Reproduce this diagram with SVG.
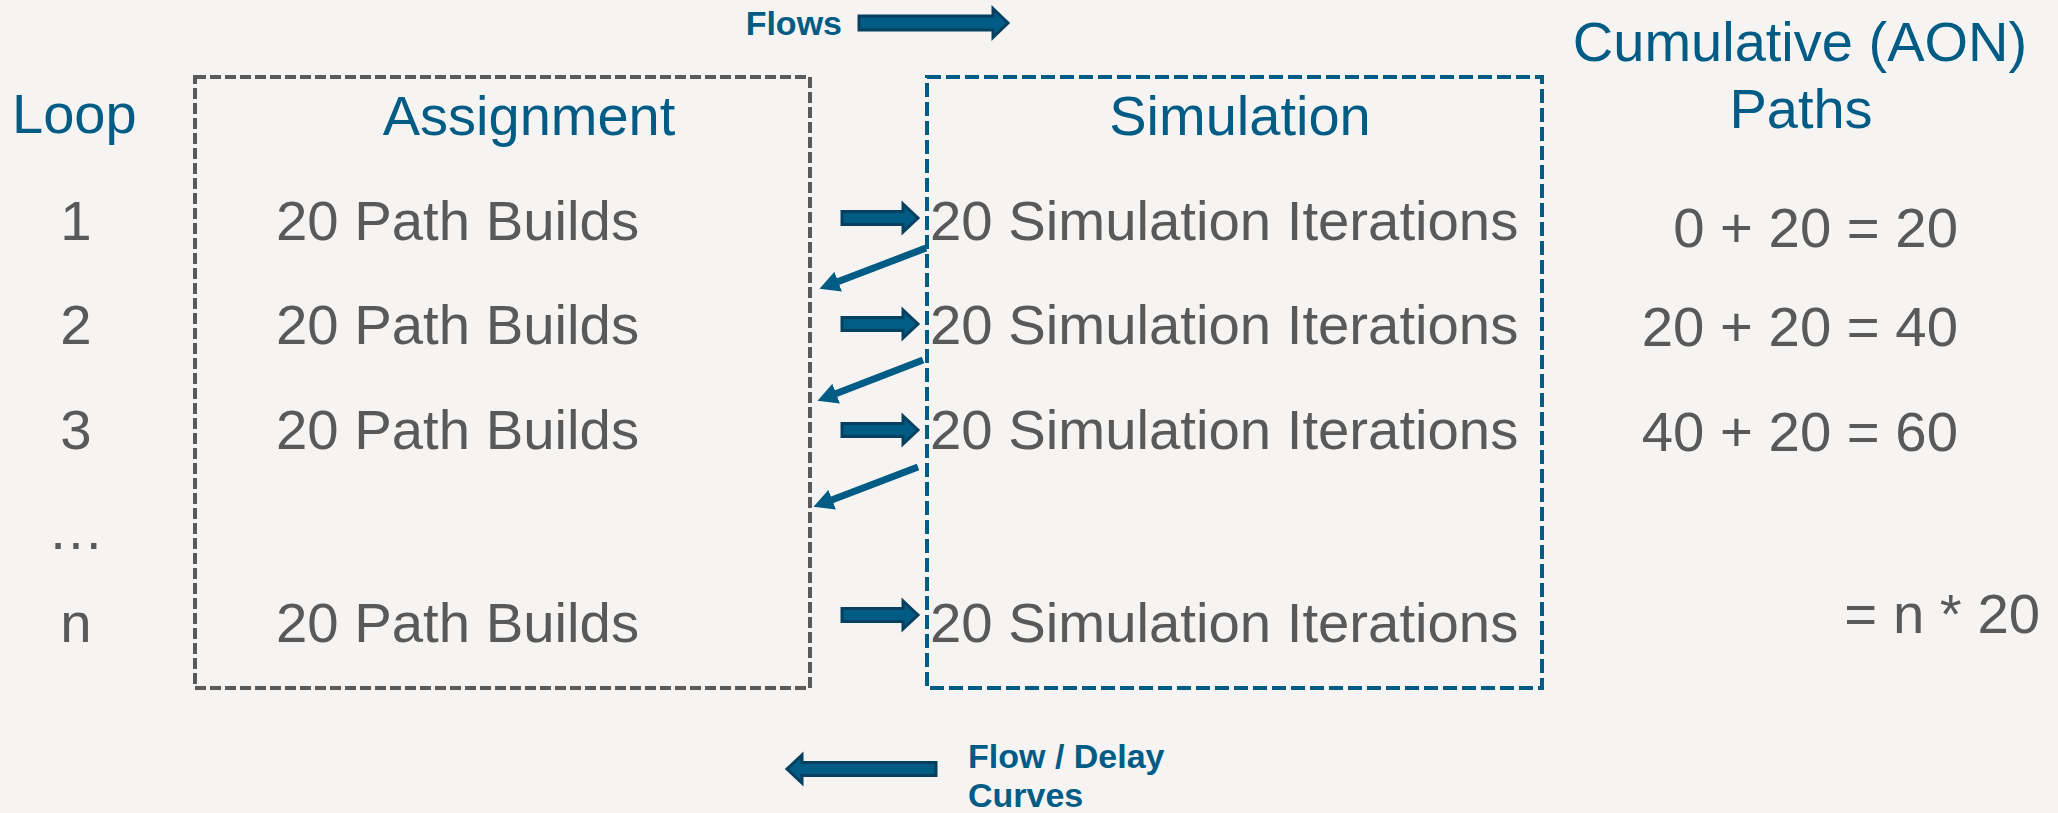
<svg xmlns="http://www.w3.org/2000/svg" width="2058" height="813" viewBox="0 0 2058 813">
  <defs>
    <style>
      text { font-family: "Liberation Sans", Arial, sans-serif; }
      .head { font-size: 56px; fill: #005b85; }
      .body { font-size: 56.3px; fill: #595959; }
      .legend { font-size: 34px; font-weight: bold; fill: #005b85; }
      .mid { text-anchor: middle; }
      .end { text-anchor: end; }
      .block-arrow { fill: #005b85; stroke: #07405f; stroke-width: 3; stroke-linejoin: miter; }
      .feedback { fill: none; stroke: #005b85; stroke-width: 7; marker-end: url(#tri); }
    </style>
    <marker id="tri" markerUnits="userSpaceOnUse" markerWidth="20" markerHeight="21" viewBox="0 0 20 21" refX="0.5" refY="10.5" orient="auto">
      <path d="M0,0 L20,10.5 L0,21 Z" fill="#005b85"/>
    </marker>
  </defs>

  <rect width="2058" height="813" fill="#f5f4f2"/>

  <!-- legend -->
  <g id="legend-flows">
    <text class="legend end" x="842" y="35">Flows</text>
    <polygon class="block-arrow" points="859,16 993,16 993,8.5 1008,23 993,37.5 993,30 859,30"/>
  </g>
  <g id="legend-curves">
    <polygon class="block-arrow" points="936,762.5 802,762.5 802,755 787,769 802,783 802,775.5 936,775.5"/>
    <text class="legend" x="968" y="768">Flow / Delay</text>
    <text class="legend" x="968" y="807">Curves</text>
  </g>

  <!-- loop column -->
  <g id="loop">
    <text class="head" x="12" y="133">Loop</text>
    <text class="body mid" x="76" y="240">1</text>
    <text class="body mid" x="76" y="344">2</text>
    <text class="body mid" x="76" y="449">3</text>
    <text class="body mid" x="76" y="549">…</text>
    <text class="body mid" x="76" y="642">n</text>
  </g>

  <!-- assignment stage -->
  <g id="assignment">
    <rect x="195" y="77" width="615" height="611" fill="none" stroke="#595959" stroke-width="4" stroke-dasharray="11 4"/>
    <text class="head mid" x="529" y="135">Assignment</text>
    <text class="body" x="276" y="240">20 Path Builds</text>
    <text class="body" x="276" y="344">20 Path Builds</text>
    <text class="body" x="276" y="449">20 Path Builds</text>
    <text class="body" x="276" y="642">20 Path Builds</text>
  </g>

  <!-- simulation stage -->
  <g id="simulation">
    <rect x="927" y="77" width="615" height="611" fill="none" stroke="#005b85" stroke-width="4" stroke-dasharray="14 5"/>
    <text class="head mid" x="1240" y="135">Simulation</text>
    <text class="body" x="930" y="240">20 Simulation Iterations</text>
    <text class="body" x="930" y="344">20 Simulation Iterations</text>
    <text class="body" x="930" y="449">20 Simulation Iterations</text>
    <text class="body" x="930" y="642">20 Simulation Iterations</text>
  </g>

  <!-- cumulative totals -->
  <g id="cumulative">
    <text class="head mid" x="1800" y="61">Cumulative (AON)</text>
    <text class="head mid" x="1801" y="128">Paths</text>
    <text class="body end" x="1958" y="247">0 + 20 = 20</text>
    <text class="body end" x="1958" y="346">20 + 20 = 40</text>
    <text class="body end" x="1958" y="451">40 + 20 = 60</text>
    <text class="body end" x="2040" y="633">= n * 20</text>
  </g>

  <!-- connectors -->
  <g id="connectors">
    <polygon class="block-arrow" points="842,211.5 903,211.5 903,204 918,218 903,232 903,224.5 842,224.5"/>
    <polygon class="block-arrow" points="842,317.5 903,317.5 903,310 918,324 903,338 903,330.5 842,330.5"/>
    <polygon class="block-arrow" points="842,423.5 903,423.5 903,416 918,430 903,444 903,436.5 842,436.5"/>
    <polygon class="block-arrow" points="842,608.5 903,608.5 903,601 918,615 903,629 903,621.5 842,621.5"/>
    <line class="feedback" x1="926" y1="248" x2="837.7" y2="281.8"/>
    <line class="feedback" x1="923" y1="360" x2="835.7" y2="393.8"/>
    <line class="feedback" x1="918" y1="467" x2="831.7" y2="499.9"/>
  </g>
</svg>
